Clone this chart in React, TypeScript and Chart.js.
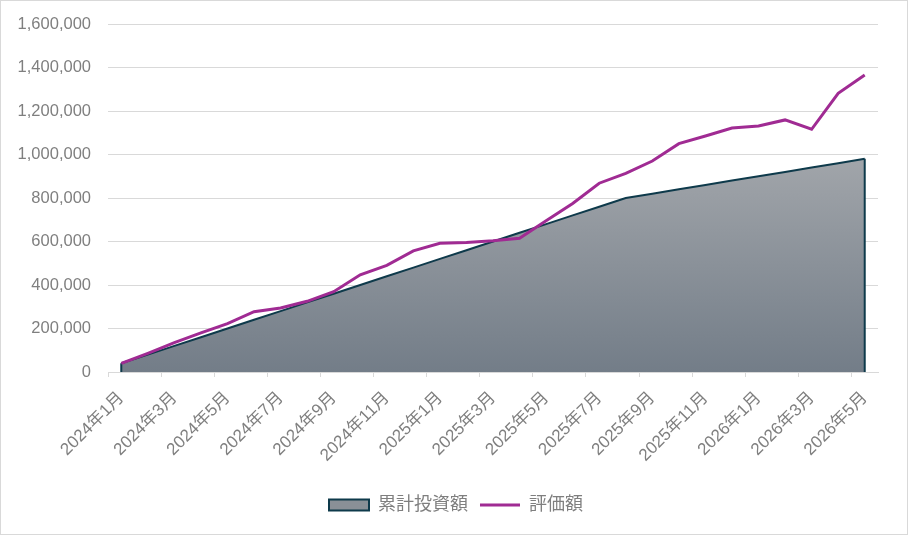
import { useEffect, useRef } from "react";
import { Chart, ChartConfiguration, registerables } from "chart.js";

Chart.register(...registerables);

const months = [
  "2024年1月", "2024年2月", "2024年3月", "2024年4月", "2024年5月", "2024年6月",
  "2024年7月", "2024年8月", "2024年9月", "2024年10月", "2024年11月", "2024年12月",
  "2025年1月", "2025年2月", "2025年3月", "2025年4月", "2025年5月", "2025年6月",
  "2025年7月", "2025年8月", "2025年9月", "2025年10月", "2025年11月", "2025年12月",
  "2026年1月", "2026年2月", "2026年3月", "2026年4月", "2026年5月",
];

const invested = [
  40000, 80000, 120000, 160000, 200000, 240000, 280000, 320000, 360000, 400000,
  440000, 480000, 520000, 560000, 600000, 640000, 680000, 720000, 760000, 800000,
  820000, 840000, 860000, 880000, 900000, 920000, 940000, 960000, 980000,
];

const valuation = [
  40000, 86000, 135000, 180000, 222000, 277000, 294000, 325000, 369000, 447000,
  490000, 557000, 592000, 595000, 603000, 615000, 695000, 775000, 868000, 913000,
  970000, 1050000, 1085000, 1122000, 1131000, 1159000, 1116000, 1281000, 1366000,
];

const seriesNames = ["累計投資額", "評価額"];

const FONT = "'Liberation Sans', 'Noto Sans CJK JP', sans-serif";
const TEXT = "#7f7f7f";
const GRID = "#d9d9d9";
const AREA_LINE = "#0e3a4b";
const PURPLE = "#a02b93";

// Excel draws the area outline down both ends of the shape
const areaEdges = {
  id: "areaEdges",
  afterDatasetDraw(chart: Chart, args: any) {
    if (args.index !== 0) return;
    const pts = args.meta.data;
    if (!pts.length) return;
    const y0 = chart.scales.y.getPixelForValue(0);
    const c = chart.ctx;
    c.save();
    c.strokeStyle = AREA_LINE;
    c.lineWidth = 2;
    c.beginPath();
    for (const p of [pts[0], pts[pts.length - 1]]) {
      c.moveTo(p.x, p.y);
      c.lineTo(p.x, y0);
    }
    c.stroke();
    c.restore();
  },
};

// the legend sits a little right of the canvas centre in the original
const legendShift = {
  id: "legendShift",
  afterLayout(chart: any) {
    if (chart.legend) chart.legend.left += 33;
  },
};

function ValueChart() {
  const canvasRef = useRef<HTMLCanvasElement>(null);
  const chartRef = useRef<Chart | null>(null);

  useEffect(() => {
    if (!canvasRef.current) return;
    if (chartRef.current) chartRef.current.destroy();
    const ctx = canvasRef.current.getContext("2d");
    if (!ctx) return;

    const config: ChartConfiguration = {
      type: "line",
      data: {
        labels: months,
        datasets: [
          {
            label: seriesNames[0],
            data: invested,
            order: 2,
            fill: "origin",
            borderColor: AREA_LINE,
            borderWidth: 2,
            pointRadius: 0,
            tension: 0,
            backgroundColor: (c: any) => {
              const { chart } = c;
              const area = chart.chartArea;
              if (!area) return "#8a9097";
              const top = chart.scales.y.getPixelForValue(Math.max(...invested));
              const g = chart.ctx.createLinearGradient(0, top, 0, area.bottom);
              g.addColorStop(0, "#a1a5aa");
              g.addColorStop(1, "#737d88");
              return g;
            },
          },
          {
            label: seriesNames[1],
            data: valuation,
            order: 1,
            fill: false,
            borderColor: PURPLE,
            backgroundColor: PURPLE,
            borderWidth: 3,
            pointRadius: 0,
            tension: 0,
          },
        ],
      },
      options: {
        animation: false,
        responsive: false,
        layout: { padding: { top: 23, right: 29, bottom: 10, left: 0 } },
        plugins: {
          tooltip: { enabled: false },
          legend: {
            position: "bottom",
            labels: {
              color: TEXT,
              font: { family: FONT, size: 18 },
              usePointStyle: true,
              pointStyleWidth: 40,
              boxHeight: 11,
              padding: 12,
              generateLabels: (chart: Chart) =>
                chart.data.datasets.map((d: any, i: number) => ({
                  text: d.label,
                  datasetIndex: i,
                  fillStyle: i === 0 ? "#8a9097" : PURPLE,
                  strokeStyle: i === 0 ? AREA_LINE : PURPLE,
                  lineWidth: i === 0 ? 2 : 3,
                  pointStyle: i === 0 ? "rect" : "line",
                  fontColor: TEXT,
                  hidden: false,
                })),
            },
          },
        },
        scales: {
          x: {
            type: "category",
            offset: true,
            afterFit: (s: any) => {
              s.height = 112;
            },
            grid: {
              offset: true,
              drawOnChartArea: false,
              tickLength: 5,
              tickColor: (c: any) => (c.index % 2 === 0 ? GRID : "rgba(0,0,0,0)"),
            },
            border: { color: GRID, width: 1 },
            ticks: {
              autoSkip: false,
              maxRotation: 45,
              minRotation: 45,
              padding: 11,
              color: TEXT,
              font: { family: FONT, size: 17 },
              callback: (_v: any, i: number) => (i % 2 === 0 ? months[i] : ""),
            },
          },
          y: {
            min: 0,
            max: 1600000,
            afterFit: (s: any) => {
              s.width = 107;
              s.paddingTop = 0;
              s.paddingBottom = 0;
            },
            grid: { color: GRID, lineWidth: 1, drawTicks: false },
            border: { display: false },
            ticks: {
              stepSize: 200000,
              padding: 17,
              color: TEXT,
              font: { family: FONT, size: 16.5 },
              callback: (v: any) => Number(v).toLocaleString("en-US"),
            },
          },
        },
      },
      plugins: [areaEdges, legendShift],
    };

    chartRef.current = new Chart(ctx, config);
    return () => {
      if (chartRef.current) {
        chartRef.current.destroy();
        chartRef.current = null;
      }
    };
  }, []);

  return <canvas ref={canvasRef} width={906} height={533} style={{ display: "block" }} />;
}

export default function App() {
  return (
    <div
      style={{
        position: "fixed",
        left: 0,
        top: 0,
        width: 908,
        height: 535,
        boxSizing: "border-box",
        border: `1px solid ${GRID}`,
        background: "#fff",
      }}
    >
      <ValueChart />
    </div>
  );
}
